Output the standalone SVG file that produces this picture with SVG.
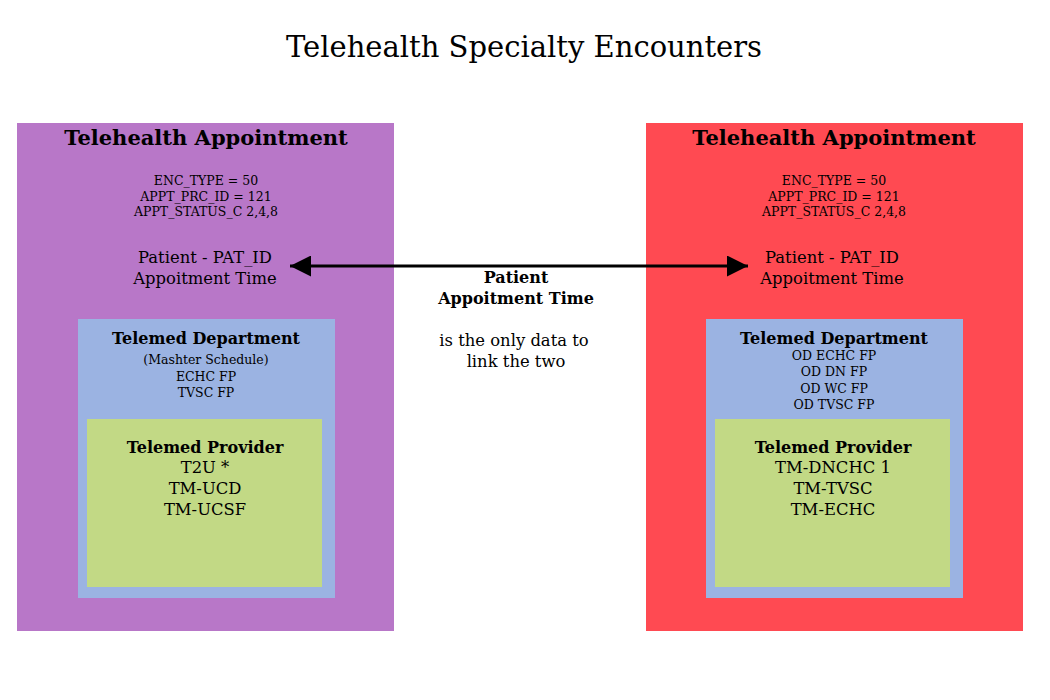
<svg xmlns="http://www.w3.org/2000/svg" width="1050" height="700" viewBox="0 0 1050 700">
<style>
text{font-family:"DejaVu Serif","Liberation Serif",serif;fill:#000;text-anchor:middle}
.title{font-size:29px}
.h1{font-size:21px;font-weight:bold}
.h2{font-size:16px;font-weight:bold}
.sm{font-size:12.5px}
.md{font-size:16.4px}
.pur{fill:#B877C8}
.red{fill:#FF4A52}
.blu{fill:#9BB3E2}
.grn{fill:#C2D985}
</style>
<defs>
<marker id="ah" viewBox="0 0 10 10" refX="10" refY="5" markerWidth="7" markerHeight="7" markerUnits="strokeWidth" orient="auto-start-reverse">
<path d="M0,0 L10,5 L0,10 Z" fill="#000"/>
</marker>
</defs>
<rect width="1050" height="700" fill="#fff"/>
<text class="title" x="524" y="57">Telehealth Specialty Encounters</text>
<g id="left-appointment">
<rect class="pur" x="17" y="123" width="377" height="508"/>
<text class="h1" x="206" y="145">Telehealth Appointment</text>
<text class="sm" x="206" y="185">ENC_TYPE = 50</text>
<text class="sm" x="206" y="201">APPT_PRC_ID = 121</text>
<text class="sm" x="206" y="216">APPT_STATUS_C 2,4,8</text>
<text class="md" x="205" y="263">Patient - PAT_ID</text>
<text class="md" x="205" y="284">Appoitment Time</text>
</g>
<g id="left-department">
<rect class="blu" x="78" y="319" width="257" height="279"/>
<text class="h2" x="206" y="344">Telemed Department</text>
<text class="sm" x="206" y="364">(Mashter Schedule)</text>
<text class="sm" x="206" y="381">ECHC FP</text>
<text class="sm" x="206" y="397">TVSC FP</text>
</g>
<g id="left-provider">
<rect class="grn" x="87" y="419" width="235" height="168"/>
<text class="h2" x="205" y="453">Telemed Provider</text>
<text class="md" x="205" y="473">T2U *</text>
<text class="md" x="205" y="494">TM-UCD</text>
<text class="md" x="205" y="515">TM-UCSF</text>
</g>
<g id="right-appointment">
<rect class="red" x="646" y="123" width="377" height="508"/>
<text class="h1" x="834" y="145">Telehealth Appointment</text>
<text class="sm" x="834" y="185">ENC_TYPE = 50</text>
<text class="sm" x="834" y="201">APPT_PRC_ID = 121</text>
<text class="sm" x="834" y="216">APPT_STATUS_C 2,4,8</text>
<text class="md" x="832" y="263">Patient - PAT_ID</text>
<text class="md" x="832" y="284">Appoitment Time</text>
</g>
<g id="right-department">
<rect class="blu" x="706" y="319" width="257" height="279"/>
<text class="h2" x="834" y="344">Telemed Department</text>
<text class="sm" x="834" y="360">OD ECHC FP</text>
<text class="sm" x="834" y="376">OD DN FP</text>
<text class="sm" x="834" y="393">OD WC FP</text>
<text class="sm" x="834" y="409">OD TVSC FP</text>
</g>
<g id="right-provider">
<rect class="grn" x="715" y="419" width="235" height="168"/>
<text class="h2" x="833" y="453">Telemed Provider</text>
<text class="md" x="833" y="473">TM-DNCHC 1</text>
<text class="md" x="833" y="494">TM-TVSC</text>
<text class="md" x="833" y="515">TM-ECHC</text>
</g>
<g id="link-note">
<text class="h2" x="516" y="283">Patient</text>
<text class="h2" x="516" y="304">Appoitment Time</text>
<text class="md" x="514" y="346">is the only data to</text>
<text class="md" x="516" y="367">link the two</text>
</g>
<g id="connectors">
<line x1="290" y1="266" x2="748" y2="266" stroke="#000" stroke-width="3" marker-start="url(#ah)" marker-end="url(#ah)"/>
</g>
</svg>
